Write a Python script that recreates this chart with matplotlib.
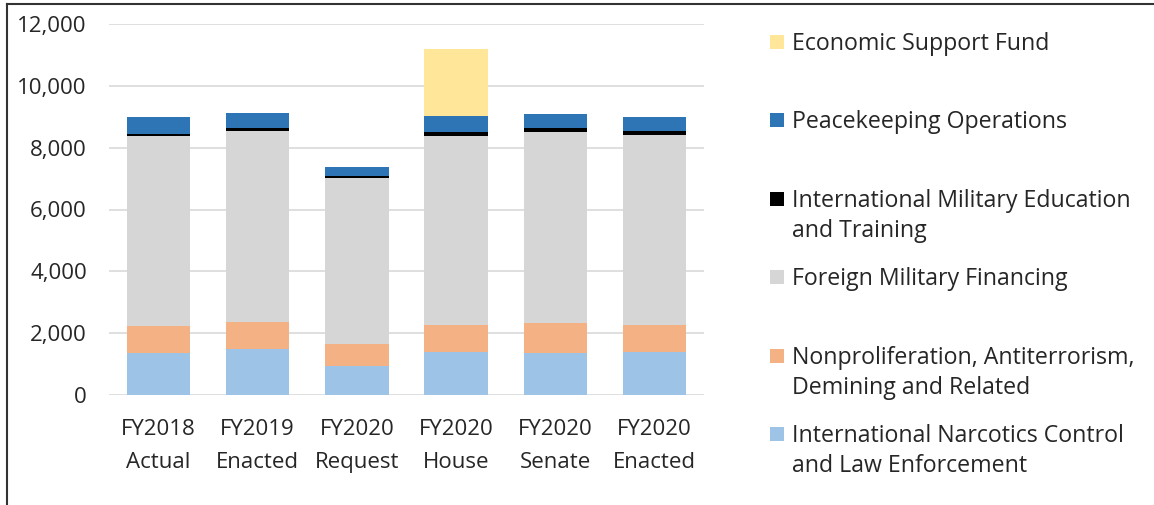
import numpy as np
import matplotlib.pyplot as plt
from matplotlib.patches import Rectangle
from matplotlib.lines import Line2D
from matplotlib.ticker import FuncFormatter

plt.rcParams['font.family'] = ['Open Sans', 'DejaVu Sans']

categories = ['FY2018\nActual', 'FY2019\nEnacted', 'FY2020\nRequest',
              'FY2020\nHouse', 'FY2020\nSenate', 'FY2020\nEnacted']

# stacked bottom -> top, millions of dollars
incle = [1350, 1490, 950, 1400, 1350, 1400]
nadr = [880, 870, 710, 865, 970, 865]
fmf = [6150, 6180, 5350, 6120, 6180, 6160]
imet = [75, 85, 85, 120, 130, 120]
pko = [550, 490, 290, 505, 455, 460]
esf = [0, 0, 0, 2190, 0, 0]

series = [
    ('International Narcotics Control\nand Law Enforcement', incle, '#9DC3E6'),
    ('Nonproliferation, Antiterrorism,\nDemining and Related', nadr, '#F4B183'),
    ('Foreign Military Financing', fmf, '#D6D6D6'),
    ('International Military Education\nand Training', imet, '#000000'),
    ('Peacekeeping Operations', pko, '#2E75B6'),
    ('Economic Support Fund', esf, '#FFE699'),
]

fig = plt.figure(figsize=(11.54, 5.05), dpi=100)
ax = fig.add_axes([109 / 1154, 1 - 395 / 505, 595 / 1154, 371 / 505])

x = np.arange(len(categories))
bottom = np.zeros(len(categories))
for name, vals, color in series:
    vals = np.array(vals, dtype=float)
    ax.bar(x, vals, width=0.64, bottom=bottom, color=color, linewidth=0, zorder=3)
    bottom += vals

ax.set_xlim(-0.5, len(categories) - 0.5)
ax.set_ylim(0, 12000)
ax.set_yticks(range(0, 12001, 2000))
ax.yaxis.set_major_formatter(FuncFormatter(lambda v, p: f'{int(v):,}'))
ax.set_xticks(x)
ax.set_xticklabels(categories, linespacing=1.74)
ax.grid(axis='y', color='#D9D9D9', linewidth=1.2, zorder=0)
for s in ax.spines.values():
    s.set_visible(False)
ax.tick_params(axis='both', length=0, labelsize=16, colors='#262626')
ax.tick_params(axis='y', pad=16)
ax.tick_params(axis='x', pad=17.5)

# legend, Excel style: equally spaced entries, top series first
y0, step, line_h = 42, 78.4, 30.5
for i, (name, vals, color) in enumerate(reversed(series)):
    yc = y0 + step * i
    fig.patches.append(Rectangle((770 / 1154, 1 - (yc + 7) / 505), 14 / 1154, 14 / 505,
                                 transform=fig.transFigure, facecolor=color,
                                 edgecolor='none'))
    for j, line in enumerate(name.split('\n')):
        fig.text(792 / 1154, 1 - (yc + 2 + j * line_h) / 505, line, fontsize=16.7,
                 color='#262626', va='center', ha='left')

# outer frame (top and left edges only)
fig.add_artist(Line2D([7 / 1154, 1], [1 - 4 / 505, 1 - 4 / 505], color='#333333',
                      linewidth=1.5, transform=fig.transFigure))
fig.add_artist(Line2D([7 / 1154, 7 / 1154], [0, 1 - 4 / 505], color='#333333',
                      linewidth=1.5, transform=fig.transFigure))

fig.savefig('out.png', dpi=100)
